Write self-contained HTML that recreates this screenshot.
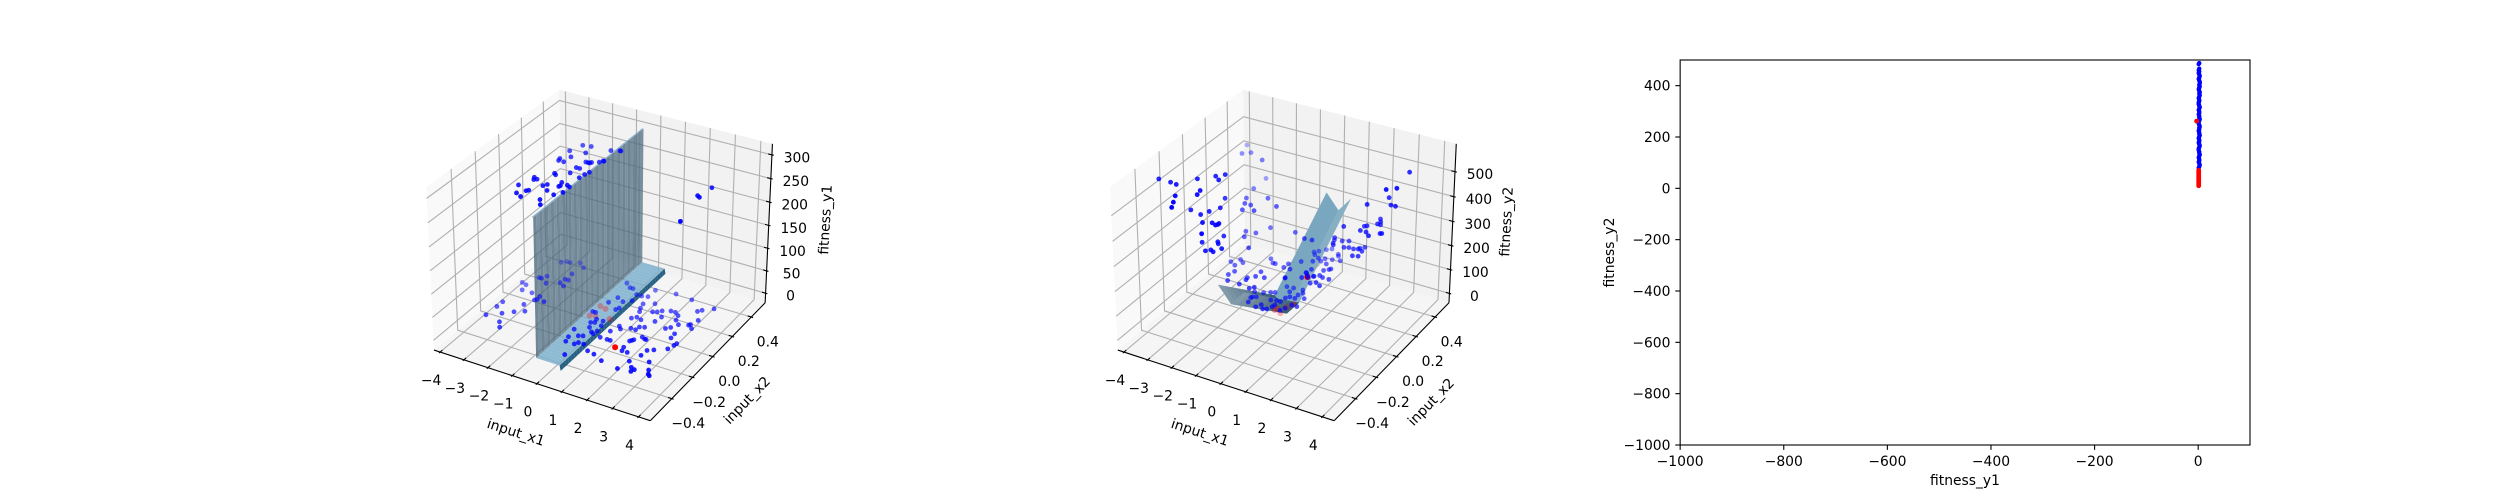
<!DOCTYPE html>
<html lang="en">
<head>
<meta charset="utf-8">
<title>Fitness and input scatter plots</title>
<style>
html,body{margin:0;padding:0;background:#fff;width:2500px;height:500px;overflow:hidden}
svg{display:block}
text{font-family:"DejaVu Sans","Liberation Sans",sans-serif;font-size:13.89px;fill:#000}
</style>
</head>
<body>
<svg id="figure" xmlns="http://www.w3.org/2000/svg" width="2500" height="500" viewBox="0 0 2500 500">
  <rect width="2500" height="500" fill="#fff"/>
  <g id="panel1"></g>
  <g id="panel2"></g>
  <g id="panel3"></g>
  <text text-anchor="middle" transform="translate(514.5 436.7) rotate(18)">input_x1</text>
  <text text-anchor="middle" transform="translate(750.3 403.5) rotate(-46)">input_x2</text>
  <text text-anchor="middle" transform="translate(830 220) rotate(-87)">fitness_y1</text>
  <text text-anchor="middle" transform="translate(1198.5 436.7) rotate(18)">input_x1</text>
  <text text-anchor="middle" transform="translate(1434.3 405.2) rotate(-46)">input_x2</text>
  <text text-anchor="middle" transform="translate(1511 222) rotate(-87)">fitness_y2</text>
  <text text-anchor="middle" x="1965" y="485">fitness_y1</text>
  <text text-anchor="middle" transform="translate(1614 252.5) rotate(-90)">fitness_y2</text>
</svg>
<script>
// ---------- shared axis ticks ----------
const x1Ticks = [-4,-3,-2,-1,0,1,2,3,4];
const x2Ticks = [-0.4,-0.2,0,0.2,0.4];
const z1Ticks = [0,50,100,150,200,250,300];
const z2Ticks = [0,100,200,300,400,500];
const f1Ticks = [-1000,-800,-600,-400,-200,0];
const f2Ticks = [-1000,-800,-600,-400,-200,0,200,400];

// ---------- panel 1 scatter ----------
const p1X1 = [
-3.58,-3.55,-3.54,-3.14,-2.91,-2.71,-2.82,-2.78,-2.50,-3.37,
-3.65,-3.44,-2.95,-2.61,-2.54,-2.57,-2.25,-3.29,-3.09,-2.86,
-3.19,-2.43,-2.41,-2.26,-2.20,-3.16,-3.01,-2.86,-2.51,-2.23,
-2.37,
-0.38,-0.12,0.01,0.33,0.54,0.76,0.78,1.56,2.25,-0.16,
-0.29,0.39,0.14,0.85,1.22,0.91,1.41,1.56,1.68,1.96,
2.14,2.33,2.41,2.63,2.80,2.91,3.24,3.11,3.00,2.96,
3.16,2.35,2.48,2.80,2.82,3.17,3.14,3.06,2.67,2.48,
2.90,2.45,3.13,3.24,3.32,2.69,2.53,2.64,2.28,2.15,
1.42,0.99,0.69,0.12,1.94,1.67,1.73,1.91,2.05,2.11,
1.74,1.70,1.65,1.04,0.91,0.63,0.35,0.14,0.06,-0.29,
-0.36,-0.09,0.06,-0.44,-0.03,0.18,0.29,0.33,0.28,0.74,
0.85,0.98,1.28,1.47,1.50,1.67,0.96,1.10,1.31,1.80,
1.86,1.00,0.18,0.24,-0.35,-0.47,-0.09,-0.03,-0.16,0.18,
-2.24,-1.93,-2.43,-1.85,-1.16,-0.87,-0.83,-2.15,-2.43,-2.39,
-2.18,-1.49,-1.39,-1.33,-1.30,-1.07,-1.00,-0.96,-1.57,-1.43,
-0.99,-1.05,-1.55,-2.01,-1.92,-1.09,-2.47,-2.40,-2.31,-2.65,
-1.89,-1.80,-1.44,-1.36,-1.38,-1.17,-1.04,-1.58,-2.14,-2.20,
-2.40,-2.14,-1.22,-1.03,-1.45,-1.25,3.27,3.11,3.22,3.45];
const p1X2 = [
-0.29,-0.20,-0.15,-0.24,-0.31,-0.35,-0.20,-0.12,-0.17,-0.01,
0.05,0.04,-0.01,-0.06,-0.05,-0.02,-0.05,0.13,0.16,0.10,
0.13,0.14,0.18,0.18,0.12,0.31,0.33,0.33,0.35,0.32,
0.24,
0.32,0.29,0.29,0.25,0.25,0.26,0.33,0.35,0.34,0.18,
0.12,0.19,0.16,0.19,0.22,0.15,0.15,0.16,0.18,0.20,
0.20,0.18,0.14,0.11,0.26,0.28,0.32,0.19,0.14,0.13,
0.11,0.05,0.07,0.03,-0.01,-0.04,-0.06,-0.10,-0.14,-0.16,
-0.24,-0.21,-0.30,-0.33,-0.34,-0.33,-0.32,-0.35,-0.28,-0.36,
-0.34,-0.31,-0.30,-0.38,-0.22,-0.19,-0.22,-0.07,-0.08,-0.08,
-0.11,-0.12,-0.13,-0.17,-0.17,-0.17,-0.26,-0.26,-0.28,-0.28,
-0.24,-0.21,-0.20,-0.17,-0.12,-0.15,-0.16,-0.13,-0.08,-0.10,
-0.04,-0.06,-0.03,-0.03,0,0.01,0.05,0.07,0.06,0.08,
0.13,0.12,0.08,0.10,0.01,0.01,-0.04,-0.07,-0.08,-0.04,
0.32,0.33,0.24,0.26,0.34,0.36,0.36,0.19,0.15,0.13,
0.13,0.18,0.18,0.18,0.19,0.21,0.23,0.23,0.11,0.11,
0.10,0.07,0.05,0.01,0,0.03,-0.07,-0.09,-0.08,-0.17,
-0.12,-0.10,-0.05,-0.08,-0.09,-0.06,-0.07,-0.15,-0.19,-0.20,
-0.24,-0.26,-0.17,-0.13,-0.24,-0.28,0.25,0.15,0.14,-0.10];
const p1Y = [
0,0,0,0,0,0,0,0,0,0,
0,0,0,0,0,0,0,0,0,0,
0,0,0,0,0,0,0,0,0,0,
0,
-6,-6,-6,-6,-6,-6,-6,-6,-6,-6,
-6,-6,-6,-6,-6,-6,-6,-6,-6,-6,
-6,-6,-6,-6,-6,-6,-6,-6,-6,-6,
-6,-6,-6,-6,-6,-6,-6,-6,-6,-6,
-6,-6,-6,-6,-6,-6,-6,-6,-6,-6,
-6,-6,-6,-6,-6,-6,-6,-6,-6,-6,
-6,-6,-6,-6,-6,-6,-6,-6,-6,-6,
-6,-6,-6,-6,-6,-6,-6,-6,-6,-6,
-6,-6,-6,-6,-6,-6,-6,-6,-6,-6,
-6,-6,-6,-6,-6,-6,-6,-6,-6,-6,
270,270,270,270,270,270,270,270,270,270,
270,270,270,270,270,270,270,270,270,270,
270,270,270,270,270,270,270,270,270,270,
270,270,270,270,270,270,270,270,270,270,
270,270,270,270,270,270,270,270,270,270];
const p1RedX1 = [1.41,-0.33,-0.07,-0.34,-0.14,0.41];
const p1RedX2 = [-0.21,0.05,0.04,-0.05,-0.04,-0.03];
const p1RedY = [-6,0,0,0,0,0];

// ---------- panel 1 surface ----------
const surfGridX2 = [-0.5,-0.475,-0.45,-0.425,-0.4,-0.375,-0.35,-0.325,-0.3,-0.275,-0.25,-0.225,-0.2,-0.175,-0.15,-0.125,-0.1,-0.075,-0.05,-0.025,0,0.025,0.05,0.075,0.1,0.125,0.15,0.175,0.2,0.225,0.25,0.275,0.3,0.325,0.35,0.375,0.4,0.425,0.45,0.475,0.5];
const surf1X1 = [-0.56,-0.5,-0.49,0.46,0.5];
const surf1Height = [297,297,3,3,-8];

// ---------- panel 2 scatter ----------
const p2X1 = [
-4.31,-3.82,-3.56,-3.14,-2.95,-2.80,-3.13,-2.65,-2.29,-1.90,
-2.52,-2.10,-1.97,-1.83,-2.06,-1.97,-1.69,-2.09,-1.99,-1.81,
-1.76,-1.76,-2.51,-2.31,-2.53,-3.14,-2.60,-2.53,-2.69,-2.46,
-2.45,-3.98,-3.79,-3.54,-2.88,-2.99,-2.98,-2.84,-2.15,-2.68,
-2.43,-1.57,-2.51,-2.11,-1.87,-2.13,-2.51,-2.35,-1.80,-0.91,
-1.59,-1.27,-1.37,-0.87,-0.85,-2.75,-2.49,-2.52,-2.33,-2.27,
-2.35,-1.64,-1.43,-1.11,-1.43,3.08,2.96,3.24,2.49,2.80,
2.98,2.05,1.25,2.13,2.24,2.33,2.21,1.88,1.95,1.90,
2.13,2.33,2.61,2.66,0.52,0.59,0.66,0.73,0.87,1.09,
1.15,1.31,1.50,1.65,1.68,1.80,1.84,1.70,1.89,-0.40,
-0.105,0,-0.15,-0.34,-0.46,-0.34,0.39,0.46,0.39,0.13,
0.68,-0.53,-0.17,-0.11,0.08,0.35,0.07,0.04,0.16,0.05,
0.39,0.54,0.49,0.63,0.67,-0.46,-1.61,-1.66,-2.15,-1.08,
-1.20,-1.60,-1.28,-1.07,-0.93,-1.51,-1.43,-1.48,-1.36,-1.03,
-0.93,-0.74,-0.61,-0.52,-0.50,-0.80,-0.60,-0.44,-0.15,-0.41,
-0.07,-0.49,-0.50,-0.76,-0.45,-0.61,0.015,0.24,0.38,0.70,
0.67,0.51,0.89,0.96,-0.14,-0.02,-0.12,0.20,-0.10,0.03,
0.24,-0.31];
const p2X2 = [
-0.20,-0.20,-0.205,-0.30,-0.355,-0.40,-0.175,-0.19,-0.25,-0.34,
-0.21,-0.27,-0.25,-0.26,-0.17,-0.185,-0.215,-0.11,-0.23,-0.24,
-0.23,-0.22,-0.145,-0.09,0,-0.11,-0.20,-0.24,-0.045,-0.01,
-0.07,0.52,0.43,0.46,0.42,0.48,0.36,0.26,0.31,0.21,
0.21,0.26,0.15,0.17,0.27,0.19,0.18,0.13,0.05,0.29,
0.21,0.18,0.18,0.17,0.21,0.09,0.07,0.13,0.11,0.02,
-0.02,0,0.03,0.04,0.08,0.44,0.235,0.27,0.39,0.33,
0.33,0.28,0.25,0.40,0.375,0.35,0.35,0.30,0.31,0.255,
0.255,0.23,0.275,0.28,0.34,0.32,0.29,0.275,0.33,0.345,
0.28,0.29,0.29,0.30,0.31,0.33,0.29,0.23,0.24,0.26,
0.265,0.44,0.42,0.39,0.37,0.35,0.41,0.395,0.35,0.34,
0.36,0.26,0.29,0.33,0.31,0.30,0.22,0.18,0.16,0.13,
0.17,0.19,0.24,0.26,0.27,0.09,-0.02,-0.07,-0.07,-0.06,
-0.08,0.057,0.07,0.09,0.10,0,-0.04,0.01,0.02,-0.06,
-0.03,-0.06,-0.05,-0.02,0,0.03,0.04,0.04,-0.03,0.08,
0,0.14,0.18,0.175,0.086,0.17,0.18,0.146,0.167,0.18,
0.124,0.105,0.106,0.18,0.186,0.16,0.135,0.12,0.10,0.04,
0.04,0.10];
const p2Y = [
500,500,500,500,500,500,400,400,400,400,
300,300,300,300,300,300,300,300,400,400,
400,400,400,400,400,500,500,500,500,500,
500,400,400,400,400,300,300,300,300,300,
300,300,300,300,200,200,200,200,200,200,
100,100,100,100,100,100,100,100,100,100,
100,100,100,100,100,500,500,500,400,400,
400,400,300,300,300,300,300,300,300,300,
300,300,300,300,200,200,200,200,200,200,
200,200,200,200,200,200,200,200,200,200,
200,100,100,100,100,100,100,100,100,100,
100,100,100,100,100,100,100,100,100,100,
100,100,100,100,100,100,100,100,100,100,
100,20,20,20,20,20,20,20,20,20,
20,20,20,20,20,20,20,20,20,20,
20,20,20,20,100,100,100,100,100,100,
100,100,100,100,20,20,20,20,20,20,
20,20];
const p2RedX1 = [1.86,-0.05,0.06,-0.31,-0.06,-0.32];
const p2RedX2 = [-0.24,-0.05,0.05,-0.02,0.01,-0.04];
const p2RedY = [300,20,20,20,20,20];

// ---------- panel 2 surface ----------
const surf2X1 = [-0.5,0,0.5];
const surf2X2 = [-0.5,-0.45,-0.4,-0.35,-0.3,-0.25,-0.2,-0.15,-0.1,-0.05,0,0.05,0.1,0.15,0.2,0.25,0.3,0.35,0.4,0.45,0.5];
const surf2EdgeHeight = [300,276,252,228,204,180,156,132,108,84,60,84,108,132,156,180,204,228,252,276,300];
const surf2CenterHeight = [240,216,192,168,144,120,96,72,48,24,0,24,48,72,96,120,144,168,192,216,240];

// ---------- panel 3 objective space ----------
const blueF1 = [
2,1,2,1,2,1,2,3,2,1,
2,3,3,2,3,2,1,2,3,2,
3,2,1,2,2,1,1,2,3,2,
1,2,2,1,2,2,3,2,1,1,
2,3,2,2,1,2,2,3,2,1,
2,2,1,2,3,2,1,1,2,2,
3,2,1,2,2,1,2,3,2,1];
const blueF2 = [
488,484,466,460,455,449,444,438,431,426,
420,415,409,403,397,392,386,380,374,369,
363,357,351,345,340,334,328,322,316,311,
305,299,293,288,282,276,270,264,259,253,
247,241,236,230,224,218,212,207,201,195,
189,183,178,172,166,160,155,149,143,137,
131,126,120,114,108,103,97,91,85,80];
const redF1 = [1,1,1,1,1,1,1,1,1,1,1,1,1,-3];
const redF2 = [70,65,60,55,50,45,40,35,30,25,20,15,10,262];

// ---------- helpers ----------
const SVGNS = 'http://www.w3.org/2000/svg';
function svgEl(tag, parent, attrs) {
  const el = document.createElementNS(SVGNS, tag);
  for (const k in attrs) el.setAttribute(k, attrs[k]);
  parent.appendChild(el);
  return el;
}
const fmtTick = v => String(v).replace('-', '\u2212');
const fmtDec = v => v.toFixed(1).replace('-', '\u2212');

function makeProjection(cfg) {
  const ax = 1.1905, ay = 1.1905, az = 0.8929, S = 385 / 0.185;
  const left = cfg.center - 192.5;
  return function (x, y, z) {
    const X = ((x - cfg.x[0]) / (cfg.x[1] - cfg.x[0]) - 0.5) * ax;
    const Y = ((y - cfg.y[0]) / (cfg.y[1] - cfg.y[0]) - 0.5) * ay;
    const Z = ((z - cfg.z[0]) / (cfg.z[1] - cfg.z[0]) - 0.5) * az;
    const U = 0.866025 * X + 0.5 * Y;
    const V = -0.25 * X + 0.433013 * Y + 0.866025 * Z;
    const W = 0.433013 * X - 0.75 * Y + 0.5 * Z;
    const d = 10 - W;
    return { px: left + (U / d + 0.095) * S, py: 445 - (V / d + 0.095) * S, depth: d };
  };
}
const ptsStr = list => list.map(p => p.px.toFixed(2) + ',' + p.py.toFixed(2)).join(' ');

function drawBox(g, cfg, proj, zTicks) {
  const [x0, x1] = cfg.x, [y0, y1] = cfg.y, [z0, z1] = cfg.z;
  const panes = [
    [[[x0,y0,z0],[x0,y1,z0],[x0,y1,z1],[x0,y0,z1]], '#f9f9f9'],
    [[[x0,y1,z0],[x1,y1,z0],[x1,y1,z1],[x0,y1,z1]], '#f2f2f2'],
    [[[x0,y0,z0],[x1,y0,z0],[x1,y1,z0],[x0,y1,z0]], '#f5f5f5']
  ];
  panes.forEach(p => {
    const pane = svgEl('polygon', g, { points: ptsStr(p[0].map(v => proj(v[0], v[1], v[2]))), fill: p[1] });
    
    
  });
  const gridLine = list => {
    const line = svgEl('polyline', g, { points: ptsStr(list), fill: 'none', stroke: '#b0b0b0', 'stroke-width': 1.1 });
    
    
  };
  x1Ticks.forEach(t => gridLine([proj(t,y0,z0), proj(t,y1,z0), proj(t,y1,z1)]));
  x2Ticks.forEach(t => gridLine([proj(x1,t,z0), proj(x0,t,z0), proj(x0,t,z1)]));
  zTicks.forEach(t => gridLine([proj(x0,y0,t), proj(x0,y1,t), proj(x1,y1,t)]));
}

function drawAxes(g, cfg, proj, zTicks) {
  const [x0, x1] = cfg.x, [y0, y1] = cfg.y, [z0, z1] = cfg.z;
  const dx = (x1 - x0) / 12, dy = (y1 - y0) / 12;
  const segment = (a, b, name) => {
    const line = svgEl('line', g, { x1: a.px, y1: a.py, x2: b.px, y2: b.py, stroke: '#000', 'stroke-width': 1.1 });
    
    
  };
  const label = (p, ox, oy, str, name) => {
    const t = svgEl('text', g, { x: p.px + ox, y: p.py + oy + 5, 'text-anchor': 'middle' });
    
    
    t.textContent = str;
  };
  segment(proj(x0,y0,z0), proj(x1,y0,z0), 'x-axis-line');
  segment(proj(x1,y0,z0), proj(x1,y1,z0), 'y-axis-line');
  segment(proj(x1,y1,z0), proj(x1,y1,z1), 'z-axis-line');
  x1Ticks.forEach(t => {
    segment(proj(t, y0 - 0.1 * dy, z0), proj(t, y0 + 0.2 * dy, z0), 'x-tick');
    label(proj(t, y0, z0), -9, 28, fmtTick(t), 'x-tick-label');
  });
  x2Ticks.forEach(t => {
    segment(proj(x1 + 0.1 * dx, t, z0), proj(x1 - 0.2 * dx, t, z0), 'y-tick');
    label(proj(x1, t, z0), 16.5, 24.5, fmtDec(t), 'y-tick-label');
  });
  zTicks.forEach(t => {
    segment(proj(x1 + 0.1 * dx, y1, t), proj(x1 - 0.2 * dx, y1, t), 'z-tick');
    label(proj(x1, y1, t), 25, 2.5, fmtTick(t), 'z-tick-label');
  });
}

function drawScatter(g, proj, xs, ys, zs, color, r, gamma, name) {
  const items = xs.map((x, i) => proj(x, ys[i], zs[i]));
  const depths = items.map(p => p.depth);
  const lo = Math.min.apply(null, depths), hi = Math.max.apply(null, depths);
  items.sort((a, b) => b.depth - a.depth).forEach(p => {
    const nearness = 1 - (p.depth - lo) / ((hi - lo) || 1);
    const alpha = 0.3 + 0.7 * Math.pow(nearness, gamma);
    const c = svgEl('circle', g, { cx: p.px.toFixed(2), cy: p.py.toFixed(2), r: r, fill: color, 'fill-opacity': alpha.toFixed(3) });
    
    
  });
}

// ---------- panel 1 ----------
const cfg1 = { center: 597.43, x: [-4.26, 4.45], y: [-0.6, 0.55], z: [-21.6, 323] };
const proj1 = makeProjection(cfg1);
const g1 = document.getElementById('panel1');
drawBox(g1, cfg1, proj1, z1Ticks);
const bandFill1 = ['rgba(125,170,198,0.9)', 'rgba(72,103,122,0.78)', 'rgba(125,175,205,0.85)', 'rgba(28,88,125,0.95)'];
const bandFillAlt1 = ['rgba(125,170,198,0.9)', 'rgba(72,103,122,0.70)', 'rgba(125,175,205,0.85)', 'rgba(28,88,125,0.95)'];
for (let band = 0; band < surf1X1.length - 1; band++) {
  for (let j = 0; j < surfGridX2.length - 1; j++) {
    const quad = [
      proj1(surf1X1[band], surfGridX2[j], surf1Height[band]),
      proj1(surf1X1[band + 1], surfGridX2[j], surf1Height[band + 1]),
      proj1(surf1X1[band + 1], surfGridX2[j + 1], surf1Height[band + 1]),
      proj1(surf1X1[band], surfGridX2[j + 1], surf1Height[band])
    ];
    const poly = svgEl('polygon', g1, { points: ptsStr(quad), fill: j % 2 ? bandFillAlt1[band] : bandFill1[band] });
    
    
  }
}
drawScatter(g1, proj1, p1RedX1, p1RedX2, p1RedY, '#ff0000', 3, 3, 'optimal-point');
drawScatter(g1, proj1, p1X1, p1X2, p1Y, '#0000ff', 2.4, 0.7, 'population-point');
drawAxes(g1, cfg1, proj1, z1Ticks);

// ---------- panel 2 ----------
const cfg2 = { center: 1281.26, x: [-4.26, 4.45], y: [-0.6, 0.55], z: [-40, 610] };
const proj2 = makeProjection(cfg2);
const g2 = document.getElementById('panel2');
drawBox(g2, cfg2, proj2, z2Ticks);
const heightRows = [surf2EdgeHeight, surf2CenterHeight, surf2EdgeHeight];
const facets2 = [];
for (let i = 0; i < surf2X1.length - 1; i++) {
  for (let j = 0; j < surf2X2.length - 1; j++) {
    const quad = [
      proj2(surf2X1[i], surf2X2[j], heightRows[i][j]),
      proj2(surf2X1[i + 1], surf2X2[j], heightRows[i + 1][j]),
      proj2(surf2X1[i + 1], surf2X2[j + 1], heightRows[i + 1][j + 1]),
      proj2(surf2X1[i], surf2X2[j + 1], heightRows[i][j + 1])
    ];
    const mid = (surf2X2[j] + surf2X2[j + 1]) / 2;
    const depth = quad.reduce((s, p) => s + p.depth, 0) / 4;
    let fill;
    if (mid < -0.02) {
      const t = (-mid - 0.02) / 0.48;
      fill = 'rgb(' + Math.round(58 + 75 * t) + ',' + Math.round(94 + 62 * t) + ',' + Math.round(116 + 56 * t) + ')';
    } else {
      fill = i === 0 ? 'rgb(122,167,192)' : 'rgb(134,175,196)';
    }
    facets2.push({ quad: quad, depth: depth, fill: fill });
  }
}
facets2.sort((a, b) => b.depth - a.depth).forEach(f => {
  const poly = svgEl('polygon', g2, { points: ptsStr(f.quad), fill: f.fill, stroke: f.fill, 'stroke-width': 0.4 });
  
  
});
drawScatter(g2, proj2, p2RedX1, p2RedX2, p2RedY, '#ff0000', 3, 3, 'optimal-point');
drawScatter(g2, proj2, p2X1, p2X2, p2Y, '#0000ff', 2.4, 0.7, 'population-point');
drawAxes(g2, cfg2, proj2, z2Ticks);

// ---------- panel 3 ----------
const g3 = document.getElementById('panel3');
const L3 = 1680.15, R3 = 2250, T3 = 60, B3 = 445;
const xScale3 = v => L3 + (v + 1000) * (R3 - L3) / 1100;
const yScale3 = v => B3 - (v + 1000) * (B3 - T3) / 1500;
blueF2.forEach((v, i) => {
  const c = svgEl('circle', g3, { cx: xScale3(blueF1[i]).toFixed(2), cy: yScale3(v).toFixed(2), r: 2.2, fill: '#0000ff' });
  
  
});
redF2.forEach((v, i) => {
  const c = svgEl('circle', g3, { cx: xScale3(redF1[i]).toFixed(2), cy: yScale3(v).toFixed(2), r: 2.4, fill: '#ff0000' });
  
  
});
const frame3 = svgEl('rect', g3, { x: L3, y: T3, width: R3 - L3, height: B3 - T3, fill: 'none', stroke: '#000', 'stroke-width': 1.1 });


f1Ticks.forEach(v => {
  const x = xScale3(v);
  const tick = svgEl('line', g3, { x1: x, y1: B3, x2: x, y2: B3 + 4.86, stroke: '#000', 'stroke-width': 1.1 });
  
  
  const t = svgEl('text', g3, { x: x, y: B3 + 21, 'text-anchor': 'middle' });
  
  
  t.textContent = fmtTick(v);
});
f2Ticks.forEach(v => {
  const y = yScale3(v);
  const tick = svgEl('line', g3, { x1: L3 - 4.86, y1: y, x2: L3, y2: y, stroke: '#000', 'stroke-width': 1.1 });
  
  
  const t = svgEl('text', g3, { x: L3 - 9.7, y: y + 5, 'text-anchor': 'end' });
  
  
  t.textContent = fmtTick(v);
});
</script>
</body>
</html>
